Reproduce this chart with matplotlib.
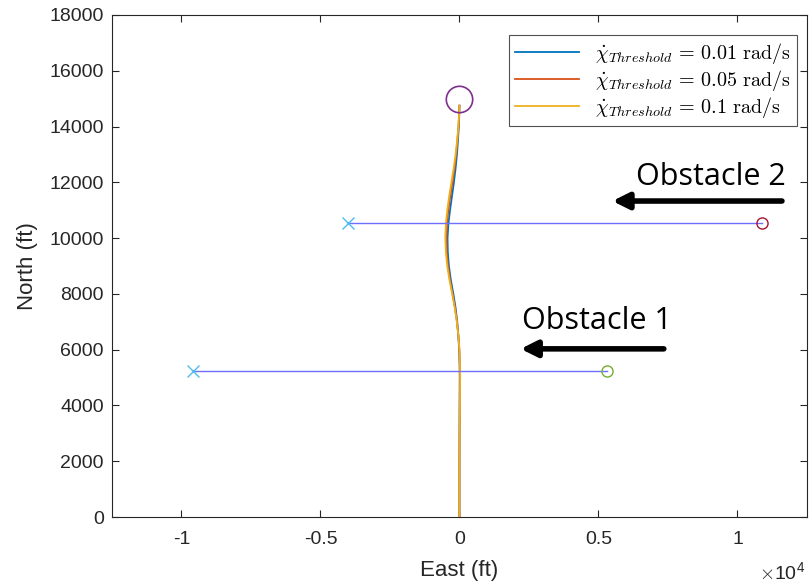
import numpy as np
import matplotlib.pyplot as plt

plt.rcParams['font.family'] = ['Liberation Sans', 'DejaVu Sans']
plt.rcParams['mathtext.fontset'] = 'cm'

# trajectories (north, east) in ft
north = [0, 2000, 4000, 5000, 5500, 6000, 6500, 7000, 7500, 8000, 8500, 9000, 9500, 10000,
         10500, 11000, 11500, 12000, 12500, 13000, 13500, 14000, 14500, 14750]
east_001 = [0, 0, 5, 10, 5, -10, -40, -80, -140, -220, -310, -380, -420, -430,
            -400, -340, -270, -200, -140, -90, -55, -25, -5, 0]
east_005 = [0, 0, 10, 15, 10, -5, -40, -90, -160, -250, -340, -410, -460, -470,
            -450, -400, -330, -250, -180, -120, -75, -35, -10, 0]
east_01 = [0, 0, 15, 25, 15, 0, -40, -95, -170, -260, -360, -440, -490, -510,
           -490, -440, -370, -290, -210, -140, -85, -40, -10, 0]
thresholds = ['0.01', '0.05', '0.1']

# obstacles: start (x) and end (o)
obs1_east = [-9600, 5300]
obs1_north = [5250, 5250]
obs2_east = [-4000, 10900]
obs2_north = [10550, 10550]
goal = (0, 15000)

fig = plt.figure(figsize=(8.09, 5.88), dpi=100)
ax = fig.add_axes([0.1384, 0.1207, 0.8591, 0.8538])

colors = ['#0072BD', '#D95319', '#EDB120']
for e, c, t in zip([east_001, east_005, east_01], colors, thresholds):
    ax.plot(e, north, color=c, lw=1.3,
            label=r'$\dot{\chi}_{Threshold}\, =\, %s\ \mathrm{rad/s}$' % t)

ax.plot(obs1_east, obs1_north, color='#6f6fff', lw=1)
ax.plot(obs1_east[0], obs1_north[0], 'x', color='#4DBEEE', ms=8, mew=1)
ax.plot(obs1_east[1], obs1_north[1], 'o', mfc='none', mec='#77AC30', ms=8, mew=1)
ax.plot(obs2_east, obs2_north, color='#6f6fff', lw=1)
ax.plot(obs2_east[0], obs2_north[0], 'x', color='#4DBEEE', ms=8, mew=1)
ax.plot(obs2_east[1], obs2_north[1], 'o', mfc='none', mec='#A2142F', ms=8, mew=1)
ax.plot(goal[0], goal[1], 'o', mfc='none', mec='#7E2F8E', ms=19, mew=1.2)

# annotations
ax.text(6350, 12200, 'Obstacle 2', fontsize=22, family=['Open Sans', 'DejaVu Sans'],
        va='center', ha='left')
ax.annotate('', xy=(5400, 11330), xytext=(11700, 11330),
            arrowprops=dict(arrowstyle='-|>', lw=4, color='k', mutation_scale=24))
ax.text(2250, 7030, 'Obstacle 1', fontsize=22, family=['Open Sans', 'DejaVu Sans'],
        va='center', ha='left')
ax.annotate('', xy=(2100, 6030), xytext=(7450, 6030),
            arrowprops=dict(arrowstyle='-|>', lw=4, color='k', mutation_scale=24))

ax.set_xlim(-12500, 12500)
ax.set_ylim(0, 18000)
ax.set_xticks([-10000, -5000, 0, 5000, 10000])
ax.set_xticklabels(['-1', '-0.5', '0', '0.5', '1'])
ax.set_yticks(np.arange(0, 18001, 2000))
ax.tick_params(direction='in', labelsize=14, colors='#262626', length=5, top=True, right=True)
ax.tick_params(axis='x', pad=10)
ax.tick_params(axis='y', pad=6)
for s in ax.spines.values():
    s.set_color('#262626')
    s.set_linewidth(0.8)
ax.set_xlabel('East (ft)', fontsize=16, color='#262626', labelpad=9)
ax.set_ylabel('North (ft)', fontsize=16, color='#262626', labelpad=8)
fig.text(0.996, 0.006, r'$\times$10$^{\mathregular{4}}$', fontsize=14, color='#262626',
         ha='right', va='bottom')

leg = ax.legend(loc='upper right', bbox_to_anchor=(0.9856, 0.960), borderaxespad=0,
                fontsize=14.5, frameon=True, fancybox=False,
                handlelength=3.2, labelspacing=0.1, borderpad=0.3)
leg.get_frame().set_edgecolor('#262626')
leg.get_frame().set_linewidth(0.8)

fig.savefig('out.png', dpi=100)
